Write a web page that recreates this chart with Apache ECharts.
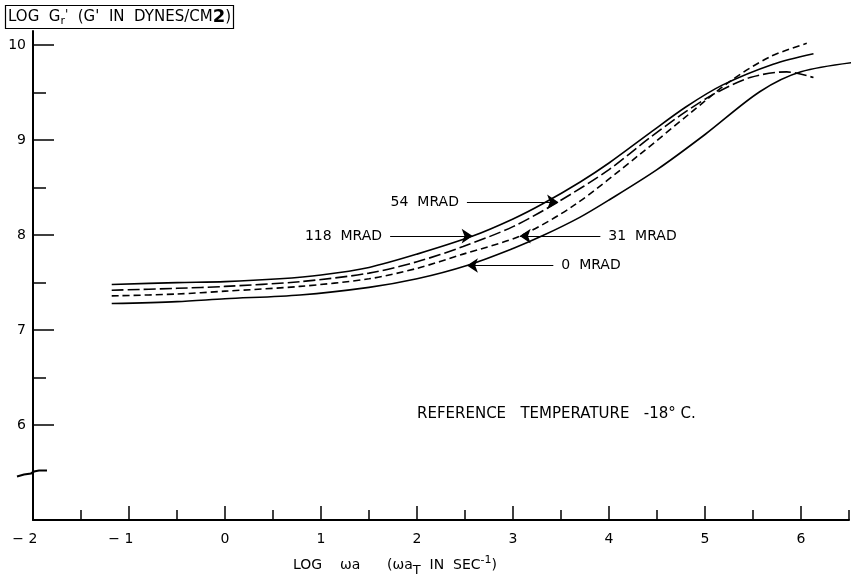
<!DOCTYPE html>
<html>
<head>
<meta charset="utf-8">
<script src="https://cdn.jsdelivr.net/npm/echarts@6/dist/echarts.min.js"></script>
<style>
html, body { margin: 0; background: #fff; }
#chart { width: 862px; height: 580px; }
</style>
</head>
<body>
<div id="chart"></div>
<script>
// log omega*a  vs  log G'r
var x118 = [-1.18, -0.5, 0, 0.57, 1.0, 1.5, 2.0, 2.58, 3.0, 3.31, 3.7, 4.0, 4.43, 4.8, 5.18, 5.71, 6.13];
var g118 = [7.48, 7.50, 7.51, 7.54, 7.58, 7.66, 7.80, 7.99, 8.17, 8.33, 8.56, 8.76, 9.08, 9.35, 9.58, 9.80, 9.91];

var x54 = [-1.18, -0.5, 0, 0.78, 1.5, 2.0, 2.48, 3.0, 3.47, 4.0, 4.43, 4.8, 5.1, 5.47, 5.85, 6.13];
var g54 = [7.42, 7.44, 7.46, 7.51, 7.60, 7.72, 7.88, 8.09, 8.35, 8.69, 9.03, 9.30, 9.49, 9.66, 9.72, 9.66];

var x31 = [-1.18, -0.5, 0, 0.78, 1.5, 2.0, 2.48, 3.07, 3.63, 4.32, 4.84, 5.26, 5.68, 6.06];
var g31 = [7.36, 7.38, 7.41, 7.46, 7.54, 7.65, 7.80, 7.99, 8.31, 8.85, 9.28, 9.62, 9.88, 10.02];

var x0 = [-1.18, -0.5, 0, 0.78, 1.5, 2.0, 2.52, 3.0, 3.3, 3.7, 4.0, 4.5, 5.0, 5.57, 6.0, 6.64];
var g0 = [7.28, 7.30, 7.33, 7.37, 7.45, 7.54, 7.68, 7.86, 7.99, 8.19, 8.37, 8.69, 9.06, 9.51, 9.72, 9.83];

// tick positions
var yMajor = [6, 7, 8, 9, 10];
var yMinor = [6.5, 7.5, 8.5, 9.5];

// annotation arrows: label, start [x, y], arrow tip x
var arrowNames = ['54  MRAD', '118  MRAD', '31  MRAD', '0  MRAD'];
var arrowFrom = [[2.52, 8.35], [1.72, 7.99], [3.91, 7.99], [3.42, 7.68]];
var arrowTipX = [3.47, 2.58, 3.07, 2.52];

var FONT = 'DejaVu Sans';

function zip(xs, ys) {
    var out = [];
    for (var i = 0; i < xs.length; i++) {
        out.push([xs[i], ys[i]]);
    }
    return out;
}

function arrowLines() {
    var lines = [];
    for (var i = 0; i < arrowNames.length; i++) {
        lines.push([{
            coord: arrowFrom[i],
            name: arrowNames[i]
        }, {
            coord: [arrowTipX[i], arrowFrom[i][1]]
        }]);
    }
    return lines;
}

function curve(name, data, dash) {
    return {
        name: name,
        type: 'line',
        data: data,
        smooth: 0.3,
        showSymbol: false,
        clip: false,
        lineStyle: {color: '#000', width: 1.6, type: dash}
    };
}

var chart = echarts.init(document.getElementById('chart'));

var series = [
    curve('118 MRAD', zip(x118, g118), 'solid'),
    curve('54 MRAD', zip(x54, g54), [12, 4]),
    curve('31 MRAD', zip(x31, g31), [7, 4]),
    curve('0 MRAD', zip(x0, g0), 'solid')
];
series[0].markLine = {
    silent: true,
    animation: false,
    symbol: ['none', 'arrow'],
    symbolSize: 11,
    lineStyle: {color: '#000', width: 1.2, type: 'solid'},
    label: {
        show: true,
        position: 'start',
        distance: 8,
        formatter: '{b}',
        color: '#000',
        fontFamily: FONT,
        fontSize: 14
    },
    data: arrowLines()
};

var option = {
    animation: false,
    title: {
        left: 5,
        top: 5,
        padding: [2, 3, 1, 3],
        borderColor: '#000',
        borderWidth: 1.2,
        text: 'LOG  G{sub|r}{pr|\'}  (G\'  IN  DYNES/CM{big|2})',
        textStyle: {
            color: '#000',
            fontFamily: FONT,
            fontSize: 15,
            fontWeight: 'normal',
            lineHeight: 21,
            rich: {
                sub: {fontFamily: FONT, fontSize: 11, color: '#000', lineHeight: 21, padding: [7, 0, 0, 0]},
                pr: {fontFamily: FONT, fontSize: 12, color: '#000', lineHeight: 21, padding: [0, 0, 6, 0]},
                big: {fontFamily: FONT, fontSize: 18, fontWeight: 'bold', color: '#000', lineHeight: 21}
            }
        }
    },
    grid: {left: 33, right: 13, top: 31, bottom: 60},
    xAxis: [{
        type: 'value',
        position: 'bottom',
        min: -2,
        max: 6.5,
        interval: 1,
        splitLine: {show: false},
        axisLine: {onZero: false, lineStyle: {color: '#000', width: 2}},
        axisTick: {inside: true, length: 14, lineStyle: {color: '#000', width: 1.5}},
        axisLabel: {
            color: '#000',
            fontFamily: FONT,
            fontSize: 14,
            margin: 12,
            showMaxLabel: false,
            formatter: function (v) {
                if (v < 0) {
                    return '\u2212 ' + Math.abs(v) + '{h|\u2212 }';
                }
                return String(v);
            },
            rich: {h: {color: 'rgba(0,0,0,0)', fontFamily: FONT, fontSize: 14}}
        }
    }, {
        type: 'value',
        position: 'bottom',
        min: -2,
        max: 6.5,
        interval: 0.5,
        splitLine: {show: false},
        axisLine: {show: false, onZero: false},
        axisLabel: {show: false},
        axisTick: {inside: true, length: 10, lineStyle: {color: '#000', width: 1.5}}
    }],
    yAxis: [{
        type: 'value',
        position: 'left',
        min: 5,
        max: 10.15,
        splitLine: {show: false},
        axisLine: {onZero: false, lineStyle: {color: '#000', width: 2}},
        axisTick: {inside: true, length: 21, customValues: yMajor, lineStyle: {color: '#000', width: 1.5}},
        axisLabel: {
            color: '#000',
            fontFamily: FONT,
            fontSize: 14,
            margin: 7,
            customValues: yMajor
        }
    }, {
        type: 'value',
        position: 'left',
        min: 5,
        max: 10.15,
        splitLine: {show: false},
        axisLine: {show: false, onZero: false},
        axisLabel: {show: false},
        axisTick: {inside: true, length: 13, customValues: yMinor, lineStyle: {color: '#000', width: 1.5}}
    }],
    series: series
};
chart.setOption(option);

// axis break mark and captions
var brk = chart.convertToPixel({xAxisIndex: 0, yAxisIndex: 0}, [-2, 5.5]);
chart.setOption({
    graphic: [{
        type: 'rect',
        shape: {x: brk[0] - 2, y: brk[1] - 3, width: 4, height: 6},
        style: {fill: '#fff'}
    }, {
        type: 'polyline',
        shape: {points: [
            [brk[0] - 16, brk[1] + 4], [brk[0] - 9, brk[1] + 2], [brk[0] - 2, brk[1] + 1],
            [brk[0] + 1, brk[1] - 1], [brk[0] + 6, brk[1] - 2], [brk[0] + 14, brk[1] - 2]
        ]},
        style: {stroke: '#000', lineWidth: 2.2, fill: null}
    }, {
        type: 'text',
        left: 417,
        top: 407,
        style: {
            text: 'REFERENCE   TEMPERATURE   -18\u00b0 C.',
            fill: '#000',
            font: '15px "' + FONT + '"'
        }
    }, {
        type: 'text',
        left: 293,
        top: 555,
        style: {
            text: 'LOG    \u03c9a      (\u03c9a{sub|T}  IN  SEC{sup|-1})',
            fill: '#000',
            font: '14px "' + FONT + '"',
            rich: {
                sub: {fontSize: 13, fontFamily: FONT, fill: '#000', padding: [10, 0, 0, 0]},
                sup: {fontSize: 11, fontFamily: FONT, fill: '#000', padding: [0, 0, 10, 0]}
            }
        }
    }]
});
</script>
</body>
</html>
